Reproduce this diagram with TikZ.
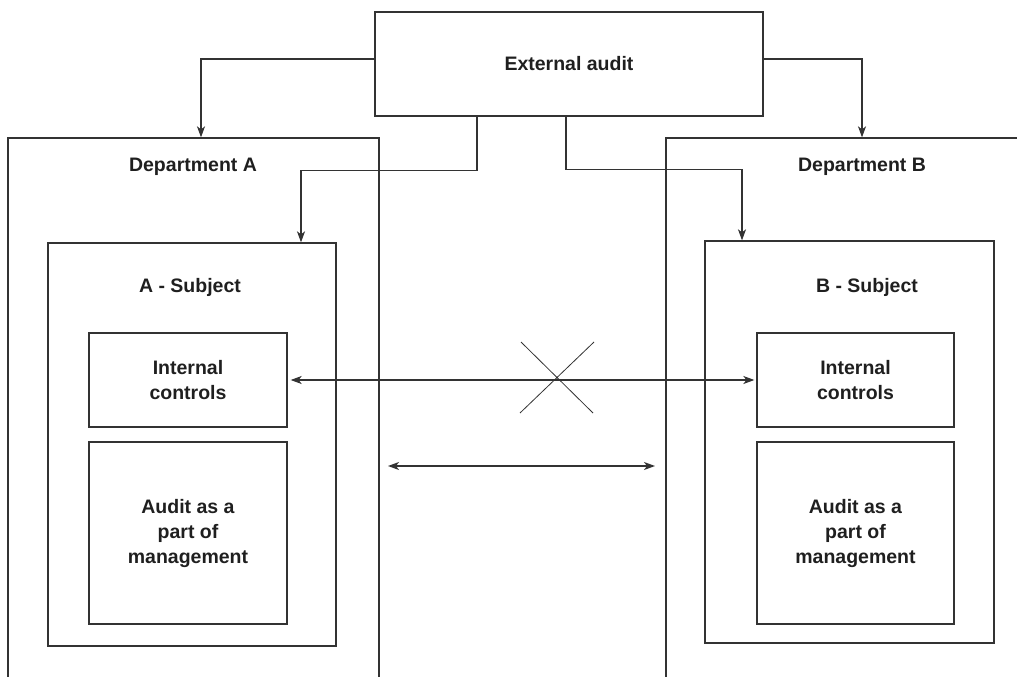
\documentclass[tikz,border=0pt]{standalone}
\usepackage{fontspec}
\setmainfont{Liberation Sans}
\usepackage{tikz}
\usetikzlibrary{arrows.meta,positioning}

\begin{document}
\begin{tikzpicture} [
      x = 1pt, y = -1pt,
      line width = 1.3pt,
      > = {Stealth[length = 11pt, width = 8pt, inset = 3pt]},
      every node/.style = { font = \fontsize{19.5}{25}\selectfont\bfseries, text = black!88, align = center },
      box/.style = { draw = black!80, inner sep = 0 },
      arr/.style = { draw = black!80, -> },
      dbl/.style = { draw = black!80, <-> }
      ]

      \useasboundingbox (0,0) rectangle (1017,677);
      \clip (0,0) rectangle (1017,677);

      % outer boxes
      \node [box, minimum width = 388pt, minimum height = 104pt] (ext) at (569,64) {External audit};
      \node [box, minimum width = 371pt, minimum height = 582pt] (deptA) at (193.5,429) {};
      \node [box, minimum width = 374pt, minimum height = 582pt] (deptB) at (853,429) {};
      \node (deptAlabel) at (193,167) {Department A};
      \node (deptBlabel) at (862,167) {Department B};

      % subjects
      \node [box, minimum width = 288pt, minimum height = 403pt] (subjA) at (192,444.5) {};
      \node [box, minimum width = 289pt, minimum height = 402pt] (subjB) at (849.5,442) {};
      \node (subjAlabel) at (190,287) {A - Subject};
      \node (subjBlabel) at (867,287) {B - Subject};

      \node [box, minimum width = 198pt, minimum height = 94pt] (ctrlA) at (188,380) {Internal\\controls};
      \node [box, minimum width = 198pt, minimum height = 182pt] (auditA) at (188,533) {Audit as a\\part of\\management};
      \node [box, minimum width = 197pt, minimum height = 94pt] (ctrlB) at (855.5,380) {Internal\\controls};
      \node [box, minimum width = 197pt, minimum height = 182pt] (auditB) at (855.5,533) {Audit as a\\part of\\management};

      % connectors
      \draw [arr] ([yshift=5pt]ext.west) -| ([xshift=7.5pt]deptA.north);
      \draw [arr] ([yshift=5pt]ext.east) -| ([xshift=9pt]deptB.north);
      \draw [arr] ([xshift=-92pt]ext.south) -- ++(0,54) -| ([xshift=109pt]subjA.north);
      \draw [arr] ([xshift=-3pt]ext.south) -- ++(0,53) -| ([xshift=-107.5pt]subjB.north);
      \draw [dbl, shorten <=3pt, shorten >=2pt] (ctrlA.east) -- (ctrlB.west);

      \coordinate (midL) at (388,466);
      \coordinate (midR) at (655,466);
      \draw [dbl] (midL) -- (midR);

      % the cross
      \draw [black!80, line width = 0.8pt] (520,413) -- (594,342) (521,342) -- (593,413);
    \end{tikzpicture}
\end{document}
